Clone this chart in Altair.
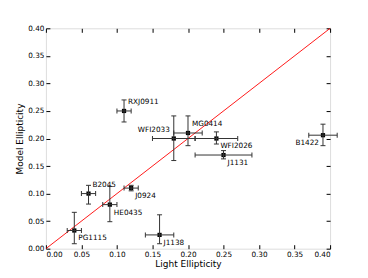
import altair as alt
import pandas as pd

names = ["RXJ0911", "WFI2033", "MG0414", "WFI2026", "J1131", "B1422",
         "B2045", "J0924", "HE0435", "PG1115", "J1138"]
light = [0.11, 0.18, 0.20, 0.24, 0.25, 0.39, 0.06, 0.12, 0.09, 0.04, 0.16]
light_err = [0.01, 0.03, 0.02, 0.03, 0.04, 0.02, 0.01, 0.01, 0.01, 0.01, 0.02]
model = [0.25, 0.20, 0.21, 0.20, 0.17, 0.206, 0.10, 0.11, 0.08, 0.033, 0.025]
model_lo = [0.23, 0.16, 0.187, 0.19, 0.163, 0.187, 0.081, 0.105, 0.049, 0.009, 0.009]
model_hi = [0.27, 0.241, 0.241, 0.212, 0.178, 0.226, 0.115, 0.115, 0.113, 0.066, 0.0615]
label_align = ["left", "right", "left", "left", "left", "right",
               "left", "left", "left", "left", "left"]
label_pos = ["above", "above", "above", "below", "below", "below",
             "above", "below", "below", "below", "below"]
tick_vals = [0.0, 0.05, 0.10, 0.15, 0.20, 0.25, 0.30, 0.35, 0.40]
diag = [0.0, 0.4]

df = pd.DataFrame({
    "name": names, "x": light, "y": model,
    "xlo": [a - b for a, b in zip(light, light_err)],
    "xhi": [a + b for a, b in zip(light, light_err)],
    "ylo": model_lo, "yhi": model_hi,
    "align": label_align, "pos": label_pos,
})
diag_df = pd.DataFrame({"x": diag, "y": diag})

FONT = "DejaVu Sans"
dom = [0, 0.4]
xs = alt.Scale(domain=dom, nice=False)
ys = alt.Scale(domain=dom, nice=False)

common_axis = dict(values=tick_vals, offset=-4, tickSize=4, tickColor="black",
                   domain=False, grid=False, labelFont=FONT, labelFontSize=7.3,
                   labelColor="black", titleFont=FONT, titleFontSize=9,
                   titleFontWeight="normal", titleColor="black")

x_main = alt.X("x:Q", scale=xs, axis=alt.Axis(orient="bottom", format=".2f",
               labelPadding=2, title="Light Ellipticity", titlePadding=2, **common_axis))
y_main = alt.Y("y:Q", scale=ys, axis=alt.Axis(orient="left", format=".2f",
               labelPadding=2, title="Model Ellipticity", titlePadding=3, **common_axis))
x_top = alt.X("x:Q", scale=xs, axis=alt.Axis(orient="top", labels=False, title=None,
              **{k: v for k, v in common_axis.items() if not k.startswith("title")}))
y_right = alt.Y("y:Q", scale=ys, axis=alt.Axis(orient="right", labels=False, title=None,
                **{k: v for k, v in common_axis.items() if not k.startswith("title")}))

line = alt.Chart(diag_df).mark_line(color="#ff0000", strokeWidth=0.9).encode(
    x=x_main, y=y_main)

ecol = "#333333"
hbar = alt.Chart(df).mark_rule(color=ecol, strokeWidth=1).encode(
    x=x_top, x2="xhi:Q", y=y_right).transform_calculate(x="datum.xlo")
# horizontal bars from xlo to xhi
hbar = alt.Chart(df).mark_rule(color=ecol, strokeWidth=1).encode(
    x=alt.X("xlo:Q", scale=xs, axis=None), x2="xhi:Q",
    y=alt.Y("y:Q", scale=ys, axis=None))
vbar = alt.Chart(df).mark_rule(color=ecol, strokeWidth=1).encode(
    x=alt.X("x:Q", scale=xs, axis=None),
    y=alt.Y("ylo:Q", scale=ys, axis=None), y2="yhi:Q")
cap_style = dict(color=ecol, thickness=1, size=5, opacity=1)
caps = [
    alt.Chart(df).mark_tick(orient="vertical", **cap_style).encode(
        x=alt.X(f"{c}:Q", scale=xs, axis=None), y=alt.Y("y:Q", scale=ys, axis=None))
    for c in ["xlo", "xhi"]
] + [
    alt.Chart(df).mark_tick(orient="horizontal", **cap_style).encode(
        x=alt.X("x:Q", scale=xs, axis=None), y=alt.Y(f"{c}:Q", scale=ys, axis=None))
    for c in ["ylo", "yhi"]
]

pts = alt.Chart(df).mark_point(shape="square", filled=True, color="black",
                               size=18, opacity=1).encode(x=x_top, y=y_right)

texts = []
for al in ["left", "right"]:
    for pos in ["above", "below"]:
        texts.append(
            alt.Chart(df).transform_filter(
                (alt.datum.align == al) & (alt.datum.pos == pos)
            ).mark_text(align=al, baseline="middle", font=FONT, fontSize=7.3,
                        color="black", dx=4 if al == "left" else -4,
                        dy=-9 if pos == "above" else 8).encode(
                x=alt.X("x:Q", scale=xs, axis=None),
                y=alt.Y("y:Q", scale=ys, axis=None),
                text="name:N")
        )

chart = alt.layer(line, pts, hbar, vbar, *caps, *texts).resolve_axis(
    x="independent", y="independent"
).properties(
    width=285, height=221,
    autosize=alt.AutoSizeParams(type="none"),
    padding={"left": 38, "top": 20, "right": 30, "bottom": 20},
).configure_view(stroke="black", strokeWidth=1).configure(background="white")

chart.save("out.html", embed_options={"renderer": "svg", "actions": False})
